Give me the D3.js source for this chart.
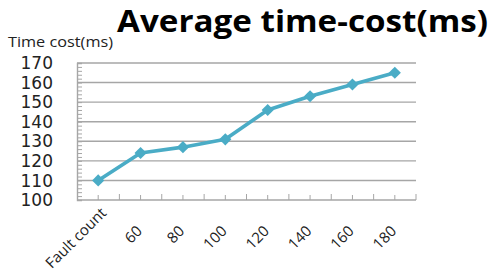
<!DOCTYPE html>
<html>
<head>
<meta charset="utf-8">
<script src="https://cdn.jsdelivr.net/npm/d3@7/dist/d3.min.js"></script>
<style>
  body { margin: 0; background: #fff; }
  svg { display: block; }
</style>
</head>
<body>
<div id="chart"></div>
<script>
// data
const categories = ["Fault count", "60", "80", "100", "120", "140", "160", "180"];
const timeCost = [110, 124, 127, 131, 146, 153, 159, 165];
const yTicks = [100, 110, 120, 130, 140, 150, 160, 170];

const width = 492;
const height = 272;
const margin = { top: 63, right: 76, bottom: 72, left: 77 };

const svg = d3.select("#chart").append("svg")
  .attr("width", width)
  .attr("height", height);

// scales
const x = d3.scaleBand()
  .domain(categories)
  .range([margin.left, width - margin.right])
  .padding(0);

const y = d3.scaleLinear()
  .domain([100, 170])
  .range([height - margin.bottom, margin.top]);

const lineColor = "#4aacc6";
const gridColor = "#a6a6a6";

// gridlines
svg.append("g")
  .selectAll("line")
  .data(yTicks.filter((d) => d > 100))
  .join("line")
  .attr("x1", margin.left)
  .attr("x2", width - margin.right)
  .attr("y1", (d) => y(d))
  .attr("y2", (d) => y(d))
  .attr("stroke", gridColor)
  .attr("stroke-width", 1.4);

// y axis with minor ticks pointing inward
const yAxis = svg.append("g")
  .attr("transform", `translate(${margin.left},0)`)
  .call(
    d3.axisRight(y)
      .tickValues(d3.range(100, 171, 2))
      .tickSize(5)
      .tickFormat("")
  );
yAxis.select(".domain").attr("stroke", gridColor).attr("stroke-width", 1.4);
yAxis.selectAll(".tick line").attr("stroke", gridColor);

// y tick labels
svg.append("g")
  .selectAll("text")
  .data(yTicks)
  .join("text")
  .attr("x", margin.left - 24)
  .attr("y", (d) => y(d))
  .attr("dy", "0.36em")
  .attr("text-anchor", "end")
  .attr("font-family", "DejaVu Sans")
  .attr("font-size", 17)
  .attr("fill", "#222")
  .text((d) => d);

// x axis: long ticks at band edges, short at centres, all pointing up
const xBase = y(100);
const edges = categories.map((c) => x(c)).concat([x(categories[categories.length - 1]) + x.bandwidth()]);
const centres = categories.map((c) => x(c) + x.bandwidth() / 2);

svg.append("line")
  .attr("x1", margin.left)
  .attr("x2", width - margin.right)
  .attr("y1", xBase)
  .attr("y2", xBase)
  .attr("stroke", gridColor)
  .attr("stroke-width", 1.4);

svg.append("g")
  .selectAll("line")
  .data(edges.slice(1).map((v) => ({ v, len: 6 })).concat(centres.map((v) => ({ v, len: 5 }))))
  .join("line")
  .attr("x1", (d) => d.v)
  .attr("x2", (d) => d.v)
  .attr("y1", xBase)
  .attr("y2", (d) => xBase - d.len)
  .attr("stroke", gridColor);

// rotated category labels
svg.append("g")
  .selectAll("text")
  .data(categories)
  .join("text")
  .attr("text-anchor", "end")
  .attr("font-family", "Open Sans")
  .attr("font-size", 15)
  .attr("fill", "#222")
  .attr("transform", (d, i) => {
    // the long first label sits higher and further right, as in the original
    const dx = i === 0 ? 9 : 2.5;
    const dy = i === 0 ? 14 : 32;
    return `translate(${x(d) + x.bandwidth() / 2 + dx},${xBase + dy}) rotate(-45)`;
  })
  .text((d) => d);

// line
const line = d3.line()
  .x((d, i) => x(categories[i]) + x.bandwidth() / 2)
  .y((d) => y(d));

svg.append("path")
  .datum(timeCost)
  .attr("fill", "none")
  .attr("stroke", lineColor)
  .attr("stroke-width", 3.6)
  .attr("stroke-linejoin", "round")
  .attr("d", line);

// diamond markers
const diamond = d3.symbol().type(d3.symbolSquare).size(74);
svg.append("g")
  .selectAll("path")
  .data(timeCost)
  .join("path")
  .attr("d", diamond)
  .attr("fill", lineColor)
  .attr("transform", (d, i) =>
    `translate(${x(categories[i]) + x.bandwidth() / 2},${y(d)}) rotate(45)`);

// titles
svg.append("text")
  .attr("x", 117)
  .attr("y", 32)
  .attr("font-family", "Open Sans")
  .attr("font-weight", "bold")
  .attr("font-size", 31)
  .attr("textLength", 371)
  .attr("lengthAdjust", "spacingAndGlyphs")
  .attr("fill", "#000")
  .text("Average time-cost(ms)");

svg.append("text")
  .attr("x", 8)
  .attr("y", 47)
  .attr("font-family", "Open Sans")
  .attr("font-size", 14)
  .attr("textLength", 105)
  .attr("lengthAdjust", "spacingAndGlyphs")
  .attr("fill", "#222")
  .text("Time cost(ms)");
</script>
</body>
</html>
